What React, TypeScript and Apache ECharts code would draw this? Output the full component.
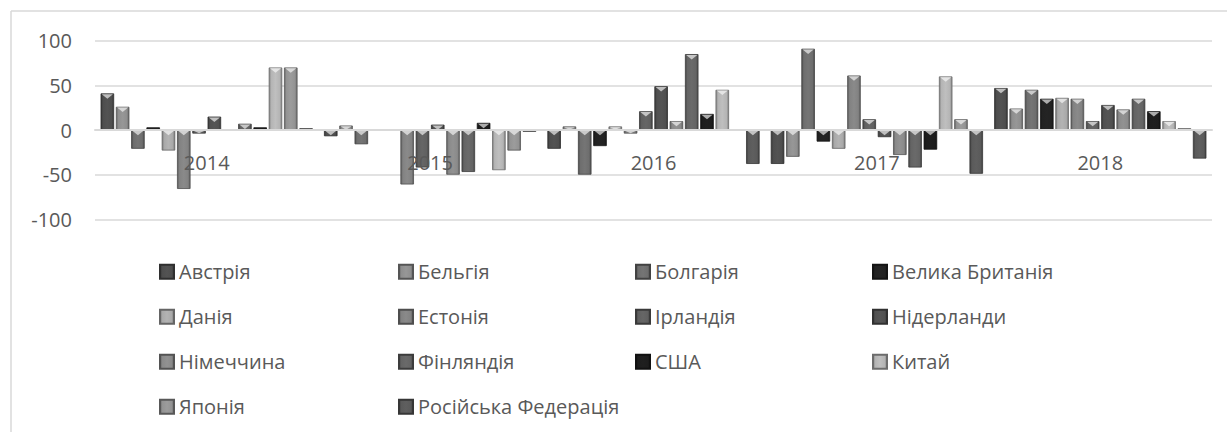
import React, { useEffect, useRef } from "react";
import * as echarts from "echarts";

const years = ["2014", "2015", "2016", "2017", "2018"];

const austria = [41, -7, -21, -38, 47];
const belgium = [26, 5, 4, -30, 24];
const bulgaria = [-21, -16, -50, 91, 45];
const uk = [3, 0, -18, -13, 35];
const denmark = [-23, -1, 4, -21, 36];
const estonia = [-66, -61, -4, 61, 35];
const ireland = [-4, -42, 21, 12, 10];
const netherlands = [15, 6, 49, -8, 28];
const germany = [0, -50, 10, -28, 23];
const finland = [7, -47, 85, -42, 35];
const usa = [3, 8, 18, -22, 21];
const china = [70, -45, 45, 60, 10];
const japan = [70, -23, -1, 12, 2];
const russia = [2, -2, -38, -49, -32];

const seriesNames = [
  "Австрія",
  "Бельгія",
  "Болгарія",
  "Велика Британія",
  "Данія",
  "Естонія",
  "Ірландія",
  "Нідерланди",
  "Німеччина",
  "Фінляндія",
  "США",
  "Китай",
  "Японія",
  "Російська Федерація",
];
const seriesValues = [
  austria, belgium, bulgaria, uk, denmark, estonia, ireland,
  netherlands, germany, finland, usa, china, japan, russia,
];
const seriesColors = [
  "#4e4e4e", "#8e8e8e", "#6e6e6e", "#222222", "#a9a9a9", "#828282", "#606060",
  "#505050", "#8a8a8a", "#646464", "#1d1d1d", "#b4b4b4", "#939393", "#5a5a5a",
];

const yMin = -100;
const yMax = 100;
const yInterval = 50;

const FONT = "Open Sans";
const TEXT = "#595959";

const BAR_GAP = 0.13;
const CAT_GAP = 0.05;

function shade(hex: string, f: number): string {
  const n = parseInt(hex.slice(1), 16);
  const r = Math.max(0, Math.min(255, Math.round(((n >> 16) & 255) * f)));
  const g = Math.max(0, Math.min(255, Math.round(((n >> 8) & 255) * f)));
  const b = Math.max(0, Math.min(255, Math.round((n & 255) * f)));
  return "#" + ((1 << 24) | (r << 16) | (g << 8) | b).toString(16).slice(1);
}

function lighten(hex: string, t: number): string {
  const n = parseInt(hex.slice(1), 16);
  const mix = (v: number) => Math.round(v + (255 - v) * t);
  const r = mix((n >> 16) & 255), g = mix((n >> 8) & 255), b = mix(n & 255);
  return "#" + ((1 << 24) | (r << 16) | (g << 8) | b).toString(16).slice(1);
}

function grad(c: string) {
  return new echarts.graphic.LinearGradient(0, 0, 1, 0, [
    { offset: 0, color: shade(c, 0.7) },
    { offset: 0.16, color: c },
    { offset: 0.5, color: shade(c, 1.06) },
    { offset: 0.84, color: c },
    { offset: 1, color: shade(c, 0.7) },
  ]);
}

const legendColumns = [
  [0, 4, 8, 12],
  [1, 5, 9, 13],
  [2, 6, 10],
  [3, 7, 11],
];
const legendLefts = [159, 398, 635, 872];

// highlight (bevel) triangles drawn on top of each bar, positioned with the axes
const highlightData: number[][] = [];
seriesValues.forEach((vals, k) => {
  vals.forEach((v, c) => {
    highlightData.push([c, v, k]);
  });
});

function renderHighlight(params: any, api: any) {
  const cat = api.value(0);
  const v = api.value(1);
  const k = api.value(2);
  const n = seriesNames.length;
  const band = api.size([1, 0])[0];
  const usable = band * (1 - CAT_GAP);
  const bw = usable / (n + (n - 1) * BAR_GAP);
  const center = api.coord([cat, 0]);
  const x0 = center[0] - usable / 2 + k * bw * (1 + BAR_GAP);
  const yTop = api.coord([cat, Math.max(v, 0)])[1];
  const yBot = api.coord([cat, Math.min(v, 0)])[1];
  const h = Math.abs(yBot - yTop);
  if (h < 3) return null;
  const th = Math.min(4.5, h - 1);
  const col = seriesColors[k];
  return {
    type: "polygon",
    shape: {
      points: [
        [x0 + 1.2, yTop + 0.8],
        [x0 + bw - 1.2, yTop + 0.8],
        [x0 + bw / 2, yTop + 0.8 + th],
      ],
    },
    style: { fill: lighten(col, 0.7), opacity: 0.9 },
    silent: true,
  };
}

export default function App() {
  const ref = useRef<HTMLDivElement>(null);
  useEffect(() => {
    if (!ref.current) return;
    const chart = echarts.init(ref.current, undefined, { renderer: "svg" });
    const bars = seriesNames.map((name, k) => ({
      name,
      type: "bar",
      data: seriesValues[k],
      barGap: BAR_GAP * 100 + "%",
      barCategoryGap: CAT_GAP * 100 + "%",
      itemStyle: {
        color: grad(seriesColors[k]),
        borderColor: shade(seriesColors[k], 0.6),
        borderWidth: 0.8,
      },
    }));
    const option: any = {
      animation: false,
      backgroundColor: "#ffffff",
      textStyle: { fontFamily: FONT },
      grid: { left: 95, right: 15, top: 40.7, bottom: 212.7, containLabel: false },
      xAxis: {
        type: "category",
        data: years,
        z: 10,
        offset: -89.3,
        axisLine: { onZero: false, lineStyle: { color: "#d9d9d9", width: 2 } },
        axisTick: { show: false },
        axisLabel: { fontSize: 20, color: TEXT, fontFamily: FONT, margin: 22, lineHeight: 20 },
        splitLine: { show: false },
      },
      yAxis: {
        type: "value",
        min: yMin,
        max: yMax,
        interval: yInterval,
        axisLine: { show: false },
        axisTick: { show: false },
        axisLabel: { fontSize: 20, color: TEXT, fontFamily: FONT, margin: 23 },
        splitLine: { lineStyle: { color: "#d9d9d9", width: 1.5 } },
      },
      legend: legendColumns.map((col, i) => ({
        orient: "vertical",
        left: legendLefts[i],
        top: 261.7,
        itemGap: 25,
        itemWidth: 14,
        itemHeight: 14,
        icon: "rect",
        padding: 0,
        textStyle: { fontSize: 20, color: TEXT, fontFamily: FONT, lineHeight: 20 },
        data: col.map((k) => seriesNames[k]),
      })),
      series: [
        ...bars,
        {
          name: "highlight",
          type: "custom",
          renderItem: renderHighlight,
          data: highlightData,
          encode: { x: 0, y: 1 },
          z: 5,
          silent: true,
          tooltip: { show: false },
        },
      ],
      graphic: [
        { type: "line", shape: { x1: 11, y1: 11, x2: 1227, y2: 11 }, style: { stroke: "#d9d9d9", lineWidth: 1.5 } },
        { type: "line", shape: { x1: 11, y1: 11, x2: 11, y2: 432 }, style: { stroke: "#d9d9d9", lineWidth: 1.5 } },
      ],
    };
    chart.setOption(option);
    return () => chart.dispose();
  }, []);
  return (
    <div
      ref={ref}
      style={{ position: "absolute", left: 0, top: 0, width: 1227, height: 432 }}
    />
  );
}
